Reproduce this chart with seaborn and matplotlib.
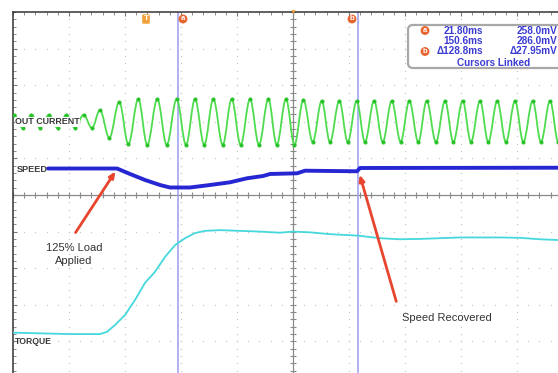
# %%
import numpy as np
import seaborn as sns
import matplotlib
matplotlib.use("Agg")
import matplotlib.pyplot as plt
from matplotlib.path import Path
from matplotlib.patches import PathPatch, FancyBboxPatch
from matplotlib.transforms import IdentityTransform

sns.set_style("white")
plt.rcParams['font.family'] = ['Liberation Sans', 'DejaVu Sans']

#%% scope screen: 40 ms/div, levels in divisions
t_left, t_right = -96, 304
v_bottom, v_top = -5, 5
t_center = 104
cursor_a, cursor_b = 21.8, 150.6

#%% traces read off the capture (time in ms, level in div)
# OUT CURRENT: peaks and troughs of the sine
current_t = [-95.3, -89.2, -82.8, -76.7, -70.3, -64.2, -57.8, -51.7, -45.6, -39.6,
             -33.9, -27.2, -20.1, -13.6, -6.5, -0.1, 7.1, 13.8, 20.9, 27.6,
             34.0, 40.6, 47.1, 53.8, 60.2, 66.6, 73.3, 79.7, 86.4, 92.4,
             99.0, 105.0, 111.4, 118.1, 124.5, 130.4, 137.1, 143.1, 149.5, 155.4,
             161.9, 168.1, 174.5, 180.9, 187.1, 193.5, 199.5, 206.1, 212.6, 218.5,
             225.2, 231.1, 237.6, 243.5, 249.9, 256.1, 262.6, 268.5, 275.2, 281.1,
             287.6, 293.5, 299.8]
current_v = [2.19, 1.83, 2.19, 1.83, 2.19, 1.83, 2.19, 1.83, 2.19, 1.83,
             2.32, 1.56, 2.54, 1.39, 2.62, 1.37, 2.62, 1.37, 2.62, 1.37,
             2.62, 1.37, 2.62, 1.37, 2.62, 1.37, 2.62, 1.37, 2.62, 1.37,
             2.62, 1.37, 2.60, 1.45, 2.57, 1.45, 2.57, 1.45, 2.57, 1.45,
             2.57, 1.45, 2.57, 1.45, 2.57, 1.45, 2.57, 1.45, 2.57, 1.45,
             2.57, 1.45, 2.57, 1.45, 2.57, 1.45, 2.57, 1.45, 2.57, 1.45,
             2.57, 1.45, 2.57]

speed_t = [-71.0, -21.7, -12.4, -1.7, 9.0, 16.1, 30.4, 44.7, 59.0, 71.1,
           82.6, 87.6, 106.9, 112.6, 149.7, 151.9, 304]
speed_v = [0.724, 0.724, 0.574, 0.410, 0.273, 0.205, 0.205, 0.273, 0.347, 0.456,
           0.519, 0.574, 0.593, 0.664, 0.648, 0.738, 0.746]

torque_t = [-96, -76.7, -55.3, -33.9, -28.9, -23.1, -16.0, -8.9, -1.7, 5.4,
            12.6, 19.7, 26.9, 34.0, 41.1, 51.9, 66.1, 80.4, 94.7, 104.0,
            116.1, 130.4, 150.4, 166.1, 180.4, 194.7, 223.3, 251.9, 266.1, 280.4,
            293.3, 304]
torque_v = [-3.76, -3.78, -3.80, -3.80, -3.74, -3.55, -3.28, -2.87, -2.40, -2.10,
            -1.69, -1.37, -1.18, -1.04, -0.98, -0.96, -0.98, -1.00, -1.03, -1.00,
            -1.02, -1.07, -1.11, -1.18, -1.21, -1.20, -1.16, -1.16, -1.17, -1.21,
            -1.23, -1.23]

readout_ms = ["21.80ms", "150.6ms", "\u0394128.8ms"]
readout_mv = ["258.0mV", "286.0mV", "\u039427.95mV"]

#%% colors
green = "#4fdc4f"
blue = "#2626d2"
cyan = "#45d8dc"
red = "#e8452e"
cursor_col = "#9c9cf0"
orange = "#e8642e"
text_col = "#333333"

#%% figure
W, H = 558, 373
fig = plt.figure(figsize=(W/100, H/100), dpi=100)
ax = fig.add_axes([13/W, -5/H, 560/W, 366/H])
ax.set_xlim(t_left, t_right)
ax.set_ylim(v_bottom, v_top)

# grid dots on major lines
major_t = np.arange(t_left + 40, t_right, 40)
major_v = np.arange(v_bottom + 1, v_top, 1)
minor_t = np.arange(t_left, t_right + 1, 8)
minor_v = np.arange(v_bottom, v_top + 0.01, 0.2)
for v in major_v:
    if v != 0:
        ax.plot(minor_t, np.full_like(minor_t, v, dtype=float), ls='none',
                marker='o', ms=1.0, mew=0, color="#c8c8c8", zorder=1)
for t in major_t:
    if t != t_center:
        ax.plot(np.full_like(minor_v, t, dtype=float), minor_v, ls='none',
                marker='o', ms=1.0, mew=0, color="#c8c8c8", zorder=1)

# center crosshair with ticks
ax.axhline(0, color="#8a8a8a", lw=0.9, zorder=1)
ax.axvline(t_center, color="#8a8a8a", lw=0.9, zorder=1)
ax.vlines(minor_t, -0.07, 0.07, color="#8a8a8a", lw=0.8, zorder=1)
ax.hlines(minor_v, t_center - 1.8, t_center + 1.8, color="#8a8a8a", lw=0.8, zorder=1)

# cursors
ax.axvline(cursor_a, color=cursor_col, lw=1.1, zorder=2)
ax.axvline(cursor_b, color=cursor_col, lw=1.1, zorder=2)

# OUT CURRENT: sine drawn as half-cosine shaped curves between the extrema
k = 1 - 2/np.pi
verts, codes = [(current_t[0], current_v[0])], [Path.MOVETO]
for i in range(len(current_t) - 1):
    t0, v0, t1, v1 = current_t[i], current_v[i], current_t[i+1], current_v[i+1]
    dt = t1 - t0
    verts += [(t0 + k*dt, v0), (t1 - k*dt, v1), (t1, v1)]
    codes += [Path.CURVE4] * 3
ax.add_patch(PathPatch(Path(verts, codes), fc='none', ec=green, lw=1.3, zorder=3))
sns.scatterplot(x=current_t, y=current_v, s=7, color="#27c227", edgecolor=None,
                ax=ax, zorder=4)

# SPEED and TORQUE
sns.lineplot(x=speed_t, y=speed_v, color=blue, lw=2.8, sort=False,
             estimator=None, ax=ax, zorder=3)
sns.lineplot(x=torque_t, y=torque_v, color=cyan, lw=1.3, sort=False,
             estimator=None, ax=ax, zorder=3)

# channel labels
ax.text(-94.6, 2.0, "OUT CURRENT", fontsize=6.4, fontweight='bold', color="#3a3a3a",
        va='center', ha='left', zorder=5,
        bbox=dict(fc='white', ec='none', pad=0.3))
ax.text(-93.1, 0.71, "SPEED", fontsize=6.6, fontweight='bold', color="#3a3a3a",
        va='center', ha='left', zorder=5)
ax.text(-94.6, -3.99, "TORQUE", fontsize=6.2, fontweight='bold', color="#3a3a3a",
        va='center', ha='left', zorder=5)

# annotations
ax.annotate("", xy=(-21.7, 0.71), xytext=(-52.4, -1.09),
            arrowprops=dict(arrowstyle='-|>,head_length=0.35,head_width=0.15',
                            color=red, lw=2), zorder=6)
ax.annotate("", xy=(151.1, 0.63), xytext=(178.3, -2.98),
            arrowprops=dict(arrowstyle='-|>,head_length=0.35,head_width=0.15',
                            color=red, lw=2), zorder=6)
ax.text(-52.4, -1.63, "125% Load\nApplied", fontsize=8, color=text_col,
        ha='center', va='center', linespacing=1.35, zorder=6)
ax.text(181.9, -3.36, "Speed Recovered", fontsize=8, color=text_col,
        ha='left', va='center', zorder=6)

# frame: top and left border with ticks
for s in ["right", "bottom"]:
    ax.spines[s].set_visible(False)
for s in ["top", "left"]:
    ax.spines[s].set_color("#333333")
    ax.spines[s].set_linewidth(1.1)
ax.set_xticks(major_t)
ax.set_yticks(major_v)
ax.set_xticks(minor_t, minor=True)
ax.set_yticks(minor_v, minor=True)
ax.tick_params(which='both', direction='in', top=True, left=True, bottom=False,
               right=False, labeltop=False, labelleft=False, labelbottom=False,
               colors="#777777")
ax.tick_params(which='major', length=3)
ax.tick_params(which='minor', length=2)

#%% top markers and readout (screen pixel positions)
def fx(x, y):
    return x / W, 1 - y / H

fig.text(*fx(146, 19), "T", fontsize=6, fontweight='bold', color='white',
         ha='center', va='center',
         bbox=dict(boxstyle='round,pad=0.15', fc="#f2a23a", ec='none'))
for x, lab in [(183, "a"), (352, "b")]:
    fig.text(*fx(x, 19), lab, fontsize=5.5, fontweight='bold', color='white',
             ha='center', va='center',
             bbox=dict(boxstyle='circle,pad=0.12', fc=orange, ec='none'))
fig.text(*fx(293, 12.5), "\u25bc", fontsize=5, color="#f2a23a", ha='center', va='center')

box = FancyBboxPatch((408, H - 68), 165, 43, boxstyle="round,pad=0,rounding_size=5",
                     transform=IdentityTransform(), fc='white', ec="#a8a8a8", lw=1.6)
fig.patches.append(box)
rows_y = [30.5, 41, 51.5]
blue_txt = "#3b3bd4"
for y, ms, mv in zip(rows_y, readout_ms, readout_mv):
    fig.text(*fx(483, y), ms, fontsize=7.2, fontweight='bold', color=blue_txt,
             ha='right', va='center')
    fig.text(*fx(557, y), mv, fontsize=7.2, fontweight='bold', color=blue_txt,
             ha='right', va='center')
fig.text(*fx(494, 62.5), "Cursors Linked", fontsize=7.2, fontweight='bold',
         color=blue_txt, ha='center', va='center')
for y, lab in [(30.5, "a"), (51.5, "b")]:
    fig.text(*fx(425, y), lab, fontsize=5.5, fontweight='bold', color='white',
             ha='center', va='center',
             bbox=dict(boxstyle='circle,pad=0.12', fc=orange, ec='none'))

fig.savefig("out.png", dpi=100)
